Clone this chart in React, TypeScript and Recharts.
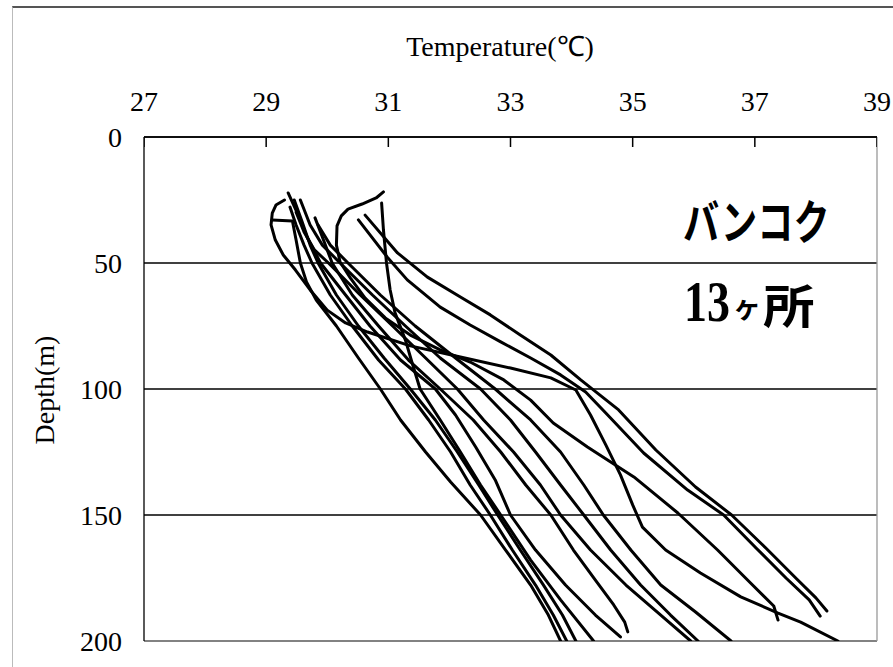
import { ScatterChart, Scatter, XAxis, YAxis, CartesianGrid, ReferenceLine } from "recharts";

// well temperature profiles, Bangkok, 13 sites: [temperature °C, depth m]
const siteA = [
  [29.3, 25.0], [29.16, 27.0], [29.1, 30.2], [29.08, 34.9], [29.15, 40.9], [29.28, 46.8],
  [29.48, 52.8], [29.72, 60.7], [30.0, 68.7], [30.3, 73.8], [30.66, 77.4], [31.36, 82.9],
  [32.18, 87.3], [33.0, 91.7], [33.66, 95.6], [34.07, 100.4], [34.31, 110.3], [34.56, 122.2],
  [34.8, 134.1], [35.0, 146.0], [35.16, 154.8], [35.54, 163.9], [36.11, 173.0], [36.77, 182.5],
  [37.38, 188.9], [37.75, 192.5], [38.36, 200],
];
const siteB = [
  [30.62, 31.0], [31.15, 46.0], [31.64, 55.6], [32.18, 63.5], [32.67, 70.6], [33.16, 78.6],
  [33.66, 86.5], [34.15, 96.4], [34.77, 108.3], [35.38, 124.2], [36.03, 138.9], [36.62, 150.0],
  [37.18, 163.1], [37.67, 175.0], [38.0, 182.9], [38.18, 188.1],
];
const siteC = [
  [30.51, 32.9], [30.98, 47.6], [31.31, 56.7], [31.85, 67.5], [32.34, 74.6], [32.84, 81.3],
  [33.33, 87.7], [33.82, 94.4], [34.23, 101.2], [34.56, 109.5], [35.18, 125.4], [35.9, 140.1],
  [36.49, 150.0], [37.02, 163.1], [37.51, 175.0], [37.89, 183.7], [38.07, 190.1],
];
const siteD = [
  [30.89, 26.2], [30.92, 36.9], [30.97, 50.0], [31.03, 60.7], [31.11, 69.8], [31.28, 80.6],
  [31.39, 89.7], [31.52, 100.0], [31.85, 112.3], [32.18, 125.0], [32.51, 138.1], [32.84, 150.0],
  [33.33, 167.9], [33.82, 183.7], [34.36, 200],
];
const siteE = [
  [30.92, 21.8], [30.8, 24.2], [30.57, 26.6], [30.34, 28.6], [30.23, 31.3], [30.16, 35.3],
  [30.15, 42.9], [30.21, 49.6], [30.38, 56.0], [30.62, 63.9], [30.95, 71.8], [31.36, 78.6],
  [31.85, 84.5], [32.34, 89.3], [32.89, 96.4], [33.33, 104.4], [33.7, 113.5], [34.26, 123.0],
  [35.02, 134.9], [35.74, 149.2], [36.39, 163.9], [36.93, 177.0], [37.31, 186.1], [37.38, 191.7],
];
const siteF = [
  [29.1, 32.9], [29.43, 33.3], [29.49, 40.9], [29.56, 50.0], [29.66, 57.5], [29.82, 64.7],
  [30.15, 75.0], [30.51, 87.7], [30.87, 100.0], [31.2, 112.3], [31.61, 125.0], [32.02, 136.9],
  [32.51, 150.0], [32.92, 163.9], [33.33, 177.8], [33.62, 189.7], [33.82, 200],
];
const siteG = [
  [29.36, 22.2], [29.51, 30.2], [29.67, 39.7], [29.89, 50.0], [30.3, 62.7], [30.7, 75.0],
  [31.2, 88.5], [31.77, 100.0], [32.1, 110.3], [32.43, 123.0], [32.75, 136.1], [33.0, 150.0],
  [33.41, 163.9], [33.9, 177.8], [34.39, 189.7], [34.8, 198.4],
];
const siteH = [
  [29.39, 27.8], [29.49, 34.9], [29.62, 42.9], [29.75, 50.0], [30.05, 62.7], [30.41, 75.0],
  [30.84, 88.5], [31.28, 100.0], [31.66, 112.3], [32.02, 125.0], [32.34, 138.1], [32.67, 150.0],
  [33.03, 163.9], [33.41, 177.8], [33.7, 189.7], [33.92, 200],
];
const siteI = [
  [29.8, 32.1], [29.92, 39.7], [30.08, 50.0], [30.41, 62.7], [30.84, 75.0], [31.33, 88.5],
  [31.85, 100.0], [32.39, 112.3], [32.84, 125.0], [33.25, 138.1], [33.66, 150.0], [34.03, 163.9],
  [34.39, 175.8], [34.69, 185.7], [34.87, 192.5], [34.92, 196.4],
];
const siteJ = [
  [29.49, 29.8], [29.62, 37.7], [29.79, 44.8], [30.02, 50.0], [30.54, 62.7], [31.07, 75.0],
  [31.61, 87.7], [32.13, 100.0], [32.56, 112.3], [33.05, 125.0], [33.49, 138.1], [33.82, 150.0],
  [34.31, 163.9], [34.89, 177.8], [35.46, 189.7], [35.95, 200],
];
const siteK = [
  [29.56, 25.0], [29.72, 34.9], [29.92, 42.9], [30.21, 50.0], [30.74, 62.7], [31.28, 75.0],
  [31.85, 87.7], [32.51, 100.0], [33.0, 112.3], [33.41, 125.0], [33.82, 138.1], [34.2, 150.0],
  [34.64, 163.9], [35.13, 177.8], [35.62, 189.7], [36.07, 200],
];
const siteL = [
  [29.85, 34.9], [30.05, 42.9], [30.34, 50.0], [30.87, 62.7], [31.44, 75.0], [32.1, 87.7],
  [32.75, 100.0], [33.33, 112.3], [33.82, 125.0], [34.2, 138.1], [34.52, 150.0], [34.97, 163.9],
  [35.46, 177.8], [36.03, 188.5], [36.61, 200],
];
const siteM = [
  [29.46, 25.0], [29.59, 33.7], [29.72, 42.9], [29.85, 50.0], [30.15, 62.7], [30.51, 75.0],
  [30.93, 87.7], [31.36, 100.0], [31.77, 112.3], [32.13, 125.0], [32.48, 138.1], [32.79, 150.0],
  [33.16, 163.9], [33.54, 177.8], [33.85, 189.7], [34.07, 200],
];

const sites = [siteA, siteB, siteC, siteD, siteE, siteF, siteG, siteH, siteI, siteJ, siteK, siteL, siteM];

const tempTicks = [27, 29, 31, 33, 35, 37, 39];
const depthTicks = [0, 50, 100, 150, 200];

const serif = '"Liberation Serif", "Times New Roman", serif';
const gothic = '"Noto Sans CJK JP", sans-serif';

const toPoints = (rows: number[][]) => rows.map(([t, d]) => ({ t, d }));

// short mark hanging down from the top axis at each temperature tick
function TickMark(props: any) {
  const { cx, cy } = props;
  return <line x1={cx} x2={cx} y1={cy} y2={cy + 10} stroke="#000" strokeWidth={1.5} />;
}

export default function App() {
  const tickStyle = { fill: "#000", fontSize: 28, fontFamily: serif };
  const jp = { position: "absolute" as const, lineHeight: 1, fontWeight: 700, whiteSpace: "nowrap" as const, transformOrigin: "left top" };
  return (
    <div
      style={{
        position: "absolute",
        left: 0,
        top: 0,
        width: 893,
        height: 667,
        background: "#fff",
        overflow: "hidden",
        fontFamily: serif,
      }}
    >
      <div
        style={{
          position: "absolute",
          left: 12,
          top: 6,
          width: 900,
          height: 700,
          borderTop: "2px solid #555",
          borderLeft: "1px solid #bbb",
        }}
      />
      <ScatterChart width={893} height={667} margin={{ top: 97, right: 16, bottom: 26, left: 84 }}>
        <CartesianGrid vertical={false} stroke="#000" strokeWidth={1.3} />
        <XAxis
          type="number"
          dataKey="t"
          orientation="top"
          domain={[27, 39]}
          ticks={tempTicks}
          height={40}
          axisLine={{ stroke: "#000", strokeWidth: 1.3 }}
          tickLine={false}
          tickSize={0}
          tickMargin={26}
          tick={tickStyle}
          allowDataOverflow
        />
        <YAxis
          type="number"
          dataKey="d"
          reversed
          domain={[0, 200]}
          ticks={depthTicks}
          width={60}
          axisLine={{ stroke: "#000", strokeWidth: 1.3 }}
          tickLine={false}
          tickSize={0}
          tickMargin={22}
          tick={tickStyle}
          allowDataOverflow
        />
        <ReferenceLine x={39} stroke="#999" strokeWidth={1.3} />
        <ReferenceLine y={200} stroke="#999" strokeWidth={1.5} />
        <Scatter
          data={tempTicks.map((t) => ({ t, d: 0 }))}
          shape={TickMark}
          isAnimationActive={false}
        />
        {sites.map((rows, i) => (
          <Scatter
            key={i}
            data={toPoints(rows)}
            line={{ stroke: "#000", strokeWidth: 3, strokeLinejoin: "round", strokeLinecap: "round" }}
            shape={() => <g />}
            isAnimationActive={false}
          />
        ))}
      </ScatterChart>
      <div
        style={{
          position: "absolute",
          left: 500,
          top: 45,
          transform: "translate(-50%, -50%)",
          fontSize: 28,
          whiteSpace: "nowrap",
        }}
      >
        Temperature(℃)
      </div>
      <div
        style={{
          position: "absolute",
          left: 45,
          top: 390,
          transform: "translate(-50%, -50%) rotate(-90deg)",
          fontSize: 28,
          whiteSpace: "nowrap",
        }}
      >
        Depth(m)
      </div>
      <div style={{ ...jp, left: 683, top: 195, fontSize: 47, fontFamily: gothic, transform: "scaleX(0.77)" }}>
        バンコク
      </div>
      <div style={{ ...jp, left: 684, top: 274, fontSize: 56, fontFamily: serif, transform: "scaleX(0.82)" }}>
        13
      </div>
      <div style={{ ...jp, left: 733, top: 292, fontSize: 28, fontFamily: gothic }}>ヶ</div>
      <div style={{ ...jp, left: 763, top: 280, fontSize: 46, fontFamily: gothic, transform: "scaleX(1.12)" }}>
        所
      </div>
    </div>
  );
}
